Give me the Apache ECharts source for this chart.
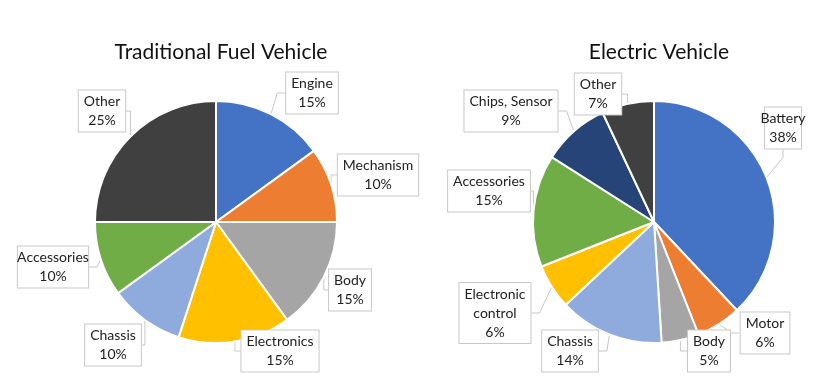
<!DOCTYPE html>
<html><head><meta charset="utf-8">
<script src="https://cdn.jsdelivr.net/npm/echarts@6/dist/echarts.min.js"></script>
<style>html,body{margin:0;padding:0;background:#fff}#c{width:833px;height:392px}</style>
</head><body><div id="c"></div>
<script>
const fuelCategories = ['Engine','Mechanism','Body','Electronics','Chassis','Accessories','Other'];
const fuelValues = [15,10,15,15,10,10,25];
const evCategories = ['Battery','Motor','Body','Chassis','Electronic\ncontrol','Accessories','Chips, Sensor','Other'];
const evValues = [38,6,5,14,6,15,9,7];

const fuelColors = ['#4472C4','#ED7D31','#A5A5A5','#FFC000','#8FAADC','#70AD47','#404040'];
const evColors = ['#4472C4','#ED7D31','#A5A5A5','#8FAADC','#FFC000','#70AD47','#264478','#404040'];

// label box centres (layout only)
const fuelLabelPos = [[312,93],[378,175],[350,290],[280,351],[113,345],[53,267],[102,111]];
const evLabelPos = [[783,128],[765,333],[709,351],[570,351],[495,313],[489,191],[511,111],[598,94]];

const FONT = 'Lato';
function mkSeries(cats, vals, colors, center, pos){
  return {
    type:'pie', center:center, radius:121, startAngle:90, clockwise:true,
    animation:false,
    data: cats.map((n,i)=>({name:n, value:vals[i], itemStyle:{color:colors[i]}})),
    itemStyle:{borderColor:'#fff', borderWidth:2},
    label:{show:true, formatter:'{b}\n{c}%', color:'#222', fontFamily:FONT, fontSize:14,
      lineHeight:19, align:'center', backgroundColor:'#fff', borderColor:'#C8C8C8', borderWidth:1,
      padding:[2,5,1,5], overflow:'none'},
    labelLine:{show:true, lineStyle:{color:'#C8C8C8', width:1}, length:8, length2:8},
    labelLayout: function(p){
      const q = pos[p.dataIndex];
      return {x:q[0], y:q[1], align:'center', verticalAlign:'middle'};
    },
    emphasis:{disabled:true}
  };
}

const chart = echarts.init(document.getElementById('c'), null, {renderer:'canvas'});
chart.setOption({
  backgroundColor:'#fff',
  title:[
    {text:'Traditional Fuel Vehicle', left:216, top:37, textAlign:'center',
     textStyle:{fontFamily:FONT, fontSize:21, fontWeight:'normal', color:'#111'}},
    {text:'Electric Vehicle', left:654, top:37, textAlign:'center',
     textStyle:{fontFamily:FONT, fontSize:21, fontWeight:'normal', color:'#111'}}
  ],
  series:[
    mkSeries(fuelCategories, fuelValues, fuelColors, [216,222], fuelLabelPos),
    mkSeries(evCategories, evValues, evColors, [654,222], evLabelPos)
  ]
});
</script></body></html>
